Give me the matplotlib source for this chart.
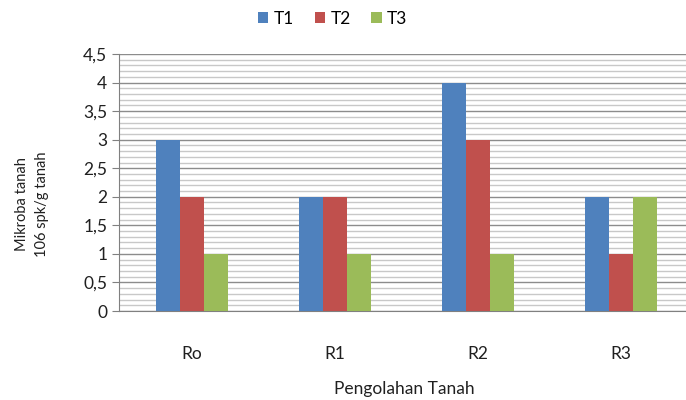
import numpy as np
import matplotlib.pyplot as plt
from matplotlib.ticker import MultipleLocator, FuncFormatter

plt.rcParams['font.family'] = ['Lato', 'DejaVu Sans']

categories = ['Ro', 'R1', 'R2', 'R3']
series_names = ['T1', 'T2', 'T3']
t1 = [3, 2, 4, 2]
t2 = [2, 2, 3, 1]
t3 = [1, 1, 1, 2]
colors = ['#4F81BD', '#C0504D', '#9BBB59']

fig = plt.figure(figsize=(6.86, 4.0), dpi=100)
ax = fig.add_axes([0.1735, 0.2225, 0.8265, 0.6425])

x = np.arange(len(categories))
w = 0.168
for i, (vals, name) in enumerate(zip([t1, t2, t3], series_names)):
    ax.bar(x + (i - 1) * w, vals, width=w, color=colors[i], label=name, zorder=3)

ax.set_ylim(0, 4.5)
ax.set_xlim(-0.51, 3.455)
ax.yaxis.set_major_locator(MultipleLocator(0.5))
ax.yaxis.set_minor_locator(MultipleLocator(0.1))
ax.yaxis.set_major_formatter(FuncFormatter(lambda v, p: ('%g' % v).replace('.', ',')))
ax.grid(which='major', axis='y', color='#8c8c8c', linewidth=1.0, zorder=0)
ax.grid(which='minor', axis='y', color='#c8c8c8', linewidth=1.0, zorder=0)

ax.set_xticks(x)
ax.set_xticklabels(categories)
ax.tick_params(axis='x', length=0, pad=25, labelsize=12.5, colors='#202020')
ax.tick_params(axis='y', which='major', length=5, color='#808080', labelsize=12.5, colors='#202020')
ax.tick_params(axis='y', which='minor', length=0)

for s in ['top', 'right']:
    ax.spines[s].set_visible(False)
ax.spines['left'].set_color('#808080')
ax.spines['bottom'].set_color('#808080')

fig.text(0.59, 0.027, 'Pengolahan Tanah', ha='center', va='center', fontsize=12.5, color='#202020')
fig.text(0.032, 0.49, 'Mikroba tanah', ha='center', va='center', rotation=90, fontsize=10.5, color='#202020')
fig.text(0.061, 0.49, '106 spk/g tanah', ha='center', va='center', rotation=90, fontsize=10.5, color='#202020')

fig.legend(loc='center', bbox_to_anchor=(0.485, 0.953), ncol=3, frameon=False,
           fontsize=12.5, handlelength=0.6, handleheight=0.6, handletextpad=0.3,
           columnspacing=1.2)

fig.savefig('out.png', dpi=100)
